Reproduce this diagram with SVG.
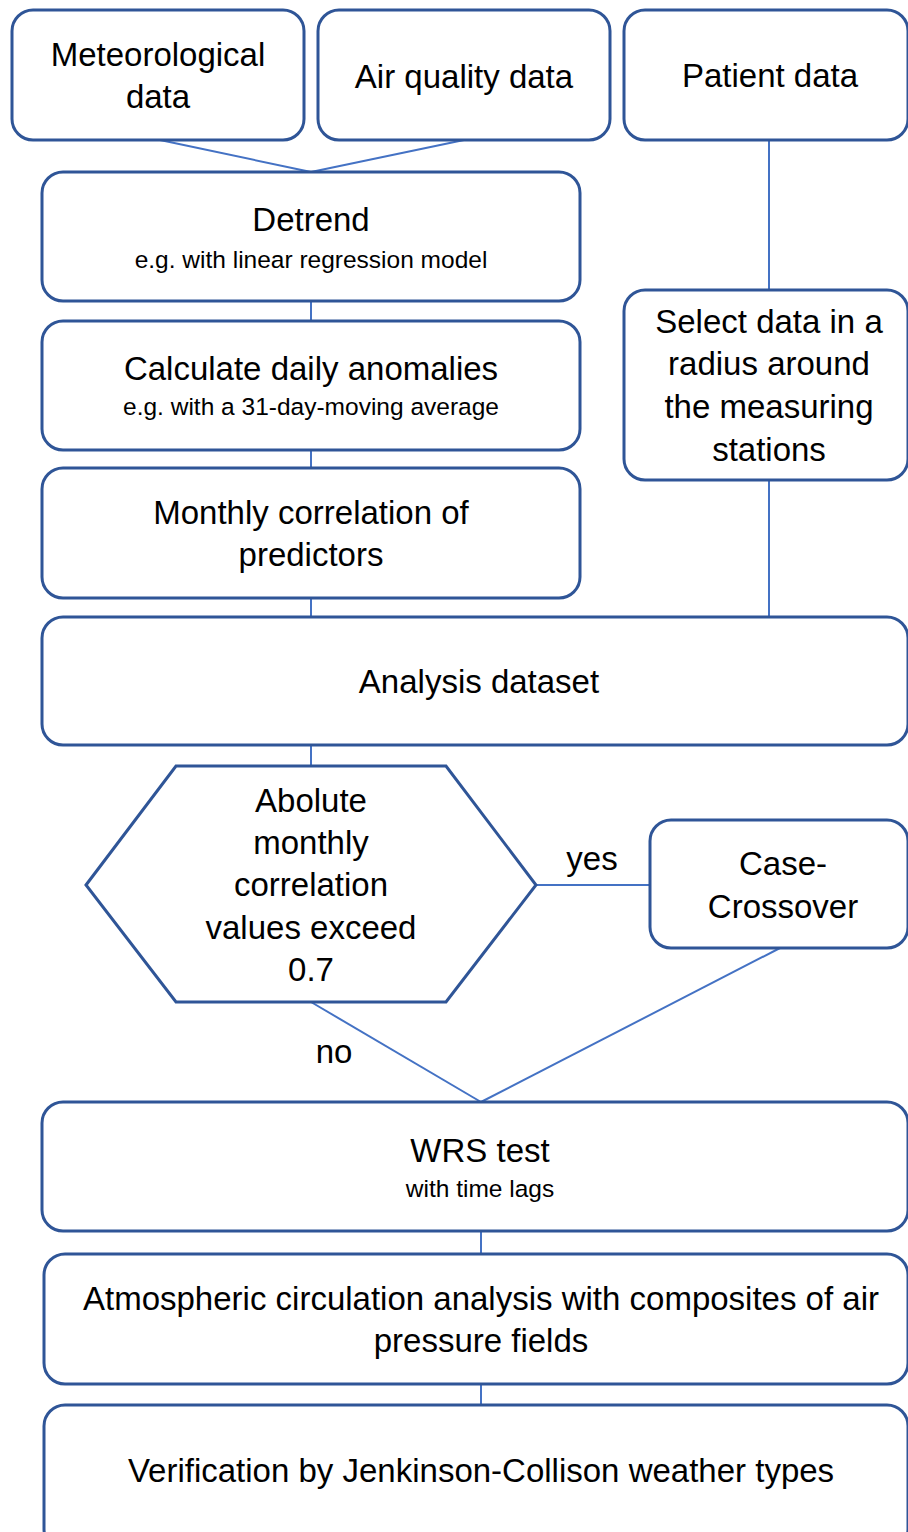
<svg xmlns="http://www.w3.org/2000/svg" width="908" height="1532" viewBox="0 0 908 1532">
<style>
.box{fill:#fff;stroke:#2F5597;stroke-width:3}
.con{stroke:#4472C4;stroke-width:2;fill:none}
text{font-family:"Liberation Sans",Arial,sans-serif;fill:#000;text-anchor:middle}
.t{font-size:33px}
.s{font-size:24.5px}
</style>
<rect width="908" height="1532" fill="#fff"/>
<g id="connectors">
<line class="con" x1="160" y1="140" x2="311" y2="172"/>
<line class="con" x1="464" y1="140" x2="311" y2="172"/>
<line class="con" x1="311" y1="301" x2="311" y2="321"/>
<line class="con" x1="311" y1="450" x2="311" y2="468"/>
<line class="con" x1="311" y1="598" x2="311" y2="617"/>
<line class="con" x1="769" y1="140" x2="769" y2="290"/>
<line class="con" x1="769" y1="480" x2="769" y2="617"/>
<line class="con" x1="311" y1="745" x2="311" y2="766"/>
<line class="con" x1="536" y1="885" x2="650" y2="885"/>
<line class="con" x1="311" y1="1002" x2="481" y2="1102"/>
<line class="con" x1="780" y1="948" x2="481" y2="1102"/>
<line class="con" x1="481" y1="1231" x2="481" y2="1254"/>
<line class="con" x1="481" y1="1384" x2="481" y2="1405"/>
<text class="t" x="592" y="870">yes</text>
<text class="t" x="334" y="1063">no</text>
</g>
<g id="met">
<rect class="box" x="12" y="10" width="292" height="130" rx="21"/>
<text class="t" x="158" y="66">Meteorological</text>
<text class="t" x="158" y="108">data</text>
</g>
<g id="air">
<rect class="box" x="318" y="10" width="292" height="130" rx="21"/>
<text class="t" x="464" y="88">Air quality data</text>
</g>
<g id="patient">
<rect class="box" x="624" y="10" width="284" height="130" rx="21"/>
<text class="t" x="770" y="87">Patient data</text>
</g>
<g id="detrend">
<rect class="box" x="42" y="172" width="538" height="129" rx="21"/>
<text class="t" x="311" y="231">Detrend</text>
<text class="s" x="311" y="268">e.g. with linear regression model</text>
</g>
<g id="anomalies">
<rect class="box" x="42" y="321" width="538" height="129" rx="21"/>
<text class="t" x="311" y="380">Calculate daily anomalies</text>
<text class="s" x="311" y="415">e.g. with a 31-day-moving average</text>
</g>
<g id="monthly">
<rect class="box" x="42" y="468" width="538" height="130" rx="21"/>
<text class="t" x="311" y="524">Monthly correlation of</text>
<text class="t" x="311" y="566">predictors</text>
</g>
<g id="select">
<rect class="box" x="624" y="290" width="284" height="190" rx="21"/>
<text class="t" x="769" y="333">Select data in a</text>
<text class="t" x="769" y="375">radius around</text>
<text class="t" x="769" y="418">the measuring</text>
<text class="t" x="769" y="461">stations</text>
</g>
<g id="analysis">
<rect class="box" x="42" y="617" width="866" height="128" rx="21"/>
<text class="t" x="479" y="693">Analysis dataset</text>
</g>
<g id="decision">
<polygon class="box" points="86,885 176,766 446,766 536,885 446,1002 176,1002"/>
<text class="t" x="311" y="812">Abolute</text>
<text class="t" x="311" y="854">monthly</text>
<text class="t" x="311" y="896">correlation</text>
<text class="t" x="311" y="939">values exceed</text>
<text class="t" x="311" y="981">0.7</text>
</g>
<g id="casecrossover">
<rect class="box" x="650" y="820" width="258" height="128" rx="21"/>
<text class="t" x="783" y="875">Case-</text>
<text class="t" x="783" y="918">Crossover</text>
</g>
<g id="wrs">
<rect class="box" x="42" y="1102" width="866" height="129" rx="21"/>
<text class="t" x="480" y="1162">WRS test</text>
<text class="s" x="480" y="1197">with time lags</text>
</g>
<g id="atmos">
<rect class="box" x="44" y="1254" width="864" height="130" rx="21"/>
<text class="t" x="481" y="1310">Atmospheric circulation analysis with composites of air</text>
<text class="t" x="481" y="1352">pressure fields</text>
</g>
<g id="verification">
<rect class="box" x="44" y="1405" width="864" height="145" rx="21"/>
<text class="t" x="481" y="1482">Verification by Jenkinson-Collison weather types</text>
</g>
</svg>
